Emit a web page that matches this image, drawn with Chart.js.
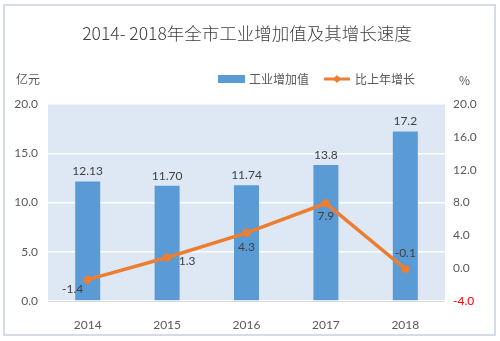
<!DOCTYPE html>
<html><head><meta charset="utf-8">
<script src="https://cdn.jsdelivr.net/npm/chart.js@4/dist/chart.umd.min.js"></script>
<style>html,body{margin:0;padding:0;background:#fff}#w{width:500px;height:341px;position:relative}</style>
</head><body><div id="w"><canvas id="c" width="500" height="341"></canvas></div>
<script>
const categories = ['2014','2015','2016','2017','2018'];
const valueLabels = ['12.13','11.70','11.74','13.8','17.2'];
const industryValue = [12.13, 11.70, 11.74, 13.8, 17.2];
const growthRate = [-1.4, 1.3, 4.3, 7.9, -0.1];
const leftTicks = [0, 5, 10, 15, 20];
const rightTicks = [-4, 0, 4, 8, 12, 16, 20];
const titleText = '2014- 2018年全市工业增加值及其增长速度';
const seriesNames = ['工业增加值', '比上年增长'];
const leftUnit = '亿元', rightUnit = '%';

const CJK = '"Noto Sans CJK SC", "Noto Sans", sans-serif';
const NUM = 'Lato, "Noto Sans", sans-serif';
const lineLabelOffsets = [[-15, 9], [20, 4], [0, 14], [0, 13], [0, -16]];

const deco = {
  id: 'deco',
  beforeDraw(chart) {
    const ctx = chart.ctx, a = chart.chartArea;
    ctx.save();
    ctx.fillStyle = '#fff';
    ctx.fillRect(0, 0, 500, 341);
    ctx.strokeStyle = '#D5DCE6';
    ctx.lineWidth = 2;
    ctx.strokeRect(4, 5, 491, 330);
    ctx.fillStyle = '#DEE8F4';
    ctx.fillRect(a.left, a.top, a.right - a.left, a.bottom - a.top);
    ctx.restore();
  },
  afterDraw(chart) {
    const ctx = chart.ctx, a = chart.chartArea;
    ctx.save();
    ctx.textBaseline = 'middle';
    ctx.fillStyle = '#404040';
    ctx.font = '300 17.5px ' + CJK;
    ctx.textAlign = 'center';
    ctx.fillText(titleText, 247, 33);
    ctx.font = '12px ' + CJK;
    ctx.fillStyle = '#595959';
    ctx.textAlign = 'left';
    ctx.fillText(leftUnit, 16, 79);
    ctx.fillText(rightUnit, 459, 80);
    // legend
    ctx.fillStyle = '#5B9BD5';
    ctx.fillRect(218, 75, 27, 8);
    ctx.fillStyle = '#595959';
    ctx.fillText(seriesNames[0], 249, 79);
    ctx.strokeStyle = '#ED7D31';
    ctx.lineWidth = 3;
    ctx.beginPath(); ctx.moveTo(324, 79); ctx.lineTo(350, 79); ctx.stroke();
    ctx.fillStyle = '#ED7D31';
    ctx.beginPath(); ctx.moveTo(337, 75); ctx.lineTo(341, 79); ctx.lineTo(337, 83); ctx.lineTo(333, 79); ctx.closePath(); ctx.fill();
    ctx.fillStyle = '#595959';
    ctx.fillText(seriesNames[1], 355, 79);
    // bar labels
    ctx.font = '12px ' + NUM;
    ctx.fillStyle = '#404040';
    ctx.textAlign = 'center';
    chart.getDatasetMeta(1).data.forEach((el, i) => {
      ctx.fillText(valueLabels[i], el.x, el.y - 10);
    });
    chart.getDatasetMeta(0).data.forEach((el, i) => {
      const o = lineLabelOffsets[i];
      ctx.fillText(growthRate[i].toFixed(1), el.x + o[0], el.y + o[1]);
    });
    // bottom baseline
    ctx.strokeStyle = '#D9D9D9';
    ctx.lineWidth = 1;
    ctx.beginPath(); ctx.moveTo(a.left, a.bottom + 0.5); ctx.lineTo(a.right, a.bottom + 0.5); ctx.stroke();
    ctx.restore();
  }
};

new Chart(document.getElementById('c'), {
  data: {
    labels: categories,
    datasets: [
      { type: 'line', label: seriesNames[1], data: growthRate, yAxisID: 'y2', borderColor: '#ED7D31', backgroundColor: '#ED7D31', borderWidth: 3.5, pointRadius: 4, pointStyle: 'circle', pointBackgroundColor: '#ED7D31', pointBorderWidth: 0, tension: 0, order: 0 },
      { type: 'bar', label: seriesNames[0], data: industryValue, yAxisID: 'y', backgroundColor: '#5B9BD5', barPercentage: 0.315, categoryPercentage: 1, order: 1 }
    ]
  },
  options: {
    responsive: false, animation: false, devicePixelRatio: 1,
    layout: { padding: { top: 104, left: 0, right: 0, bottom: 0 } },
    plugins: { legend: { display: false }, title: { display: false }, tooltip: { enabled: false } },
    scales: {
      x: {
        grid: { display: false }, border: { display: false },
        ticks: { color: '#595959', font: { family: NUM, size: 12 }, padding: 9 },
        afterFit(s) { s.height = 40; }
      },
      y: {
        position: 'left', min: 0, max: 20,
        afterBuildTicks(s) { s.ticks = leftTicks.map(v => ({ value: v })); },
        grid: { color: '#FFFFFF', lineWidth: 1.5, drawTicks: false },
        border: { display: false },
        ticks: { color: '#595959', font: { family: NUM, size: 12 }, padding: 10, callback: v => v.toFixed(1) },
        afterFit(s) { s.width = 48; }
      },
      y2: {
        position: 'right', min: -4, max: 20,
        afterBuildTicks(s) { s.ticks = rightTicks.map(v => ({ value: v })); },
        grid: { display: false, drawTicks: false }, border: { display: false },
        ticks: { color: ctx => (ctx.tick && ctx.tick.value < 0) ? '#FF0000' : '#595959', font: { family: NUM, size: 12 }, padding: 8, callback: v => v.toFixed(1) },
        afterFit(s) { s.width = 55; }
      }
    }
  },
  plugins: [deco]
});
</script></body></html>
